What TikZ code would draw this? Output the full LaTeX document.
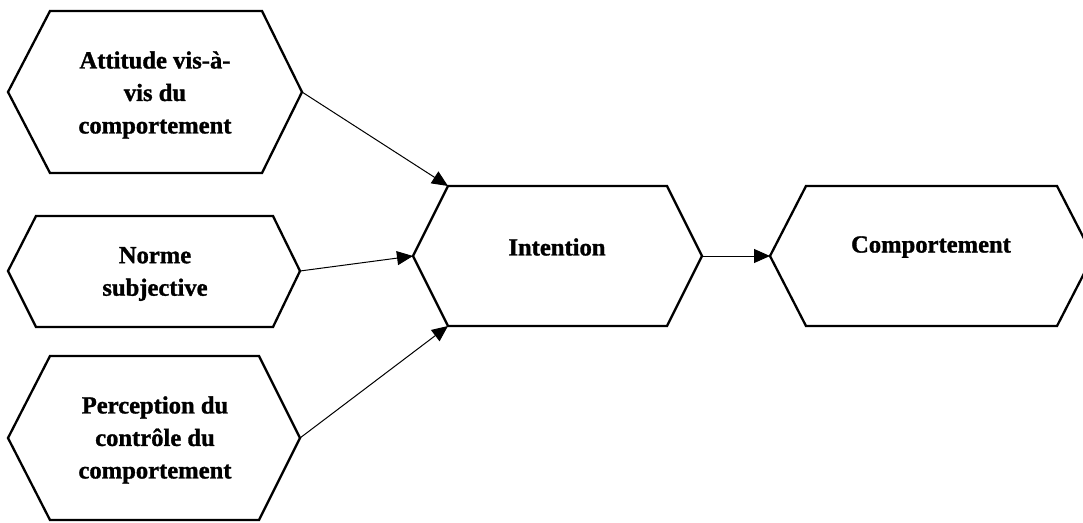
\documentclass[tikz,border=0pt]{standalone}
\usepackage{fontspec}
\setmainfont{Liberation Serif}
\newfontfamily\heavyserif[FakeBold=1.2]{Liberation Serif Bold}
\usetikzlibrary{arrows.meta}
\tikzset{
  hexline/.style={draw=black,line width=2.3pt,line join=miter},
  label/.style={font=\heavyserif\fontsize{24.6}{32.5}\selectfont,align=center,inner sep=0pt},
  conn/.style={draw=black,line width=1pt,-{Triangle[length=16pt,width=14pt]}}
}
\newcommand{\myhex}[8]{%
  % #1 name, #2 left vertex x, #3 inner left x, #4 inner right x, #5 right vertex x, #6 top y, #7 bottom y, #8 middle y
  \coordinate (#1-w) at (#2,#8);
  \coordinate (#1-nw) at (#3,#6);
  \coordinate (#1-ne) at (#4,#6);
  \coordinate (#1-e) at (#5,#8);
  \coordinate (#1-se) at (#4,#7);
  \coordinate (#1-sw) at (#3,#7);
  \draw[hexline] (#1-w) -- (#1-nw) -- (#1-ne) -- (#1-e) -- (#1-se) -- (#1-sw) -- cycle;
}
\begin{document}
\begin{tikzpicture}[x=1pt,y=-1pt]
\useasboundingbox (0,0) rectangle (1083,522);
\clip (0,0) rectangle (1083,522);
\fill[white] (0,0) rectangle (1083,522);
\myhex{att}{8}{50}{262}{302}{11}{173}{92}
\myhex{nor}{8}{36}{273}{300}{216}{327}{271}
\myhex{per}{8}{50}{259}{300}{356}{520}{438}
\myhex{int}{413}{448}{667}{702}{186}{326}{256}
\myhex{com}{770}{806}{1057}{1093}{186}{326}{256}
\node[label] (tatt) at (155,95) {Attitude vis-à-\\vis du\\comportement};
\node[label] (tnor) at (155,274) {Norme\\subjective};
\node[label] (tper) at (155,440) {Perception du\\contrôle du\\comportement};
\node[label] (tint) at (557,247) {Intention};
\node[label] (tcom) at (931,247) {Comportement};
\draw[conn] (att-e) -- (int-nw);
\draw[conn] (nor-e) -- (int-w);
\draw[conn] (per-e) -- (int-sw);
\draw[conn] (int-e) -- (com-w);
\end{tikzpicture}
\end{document}
